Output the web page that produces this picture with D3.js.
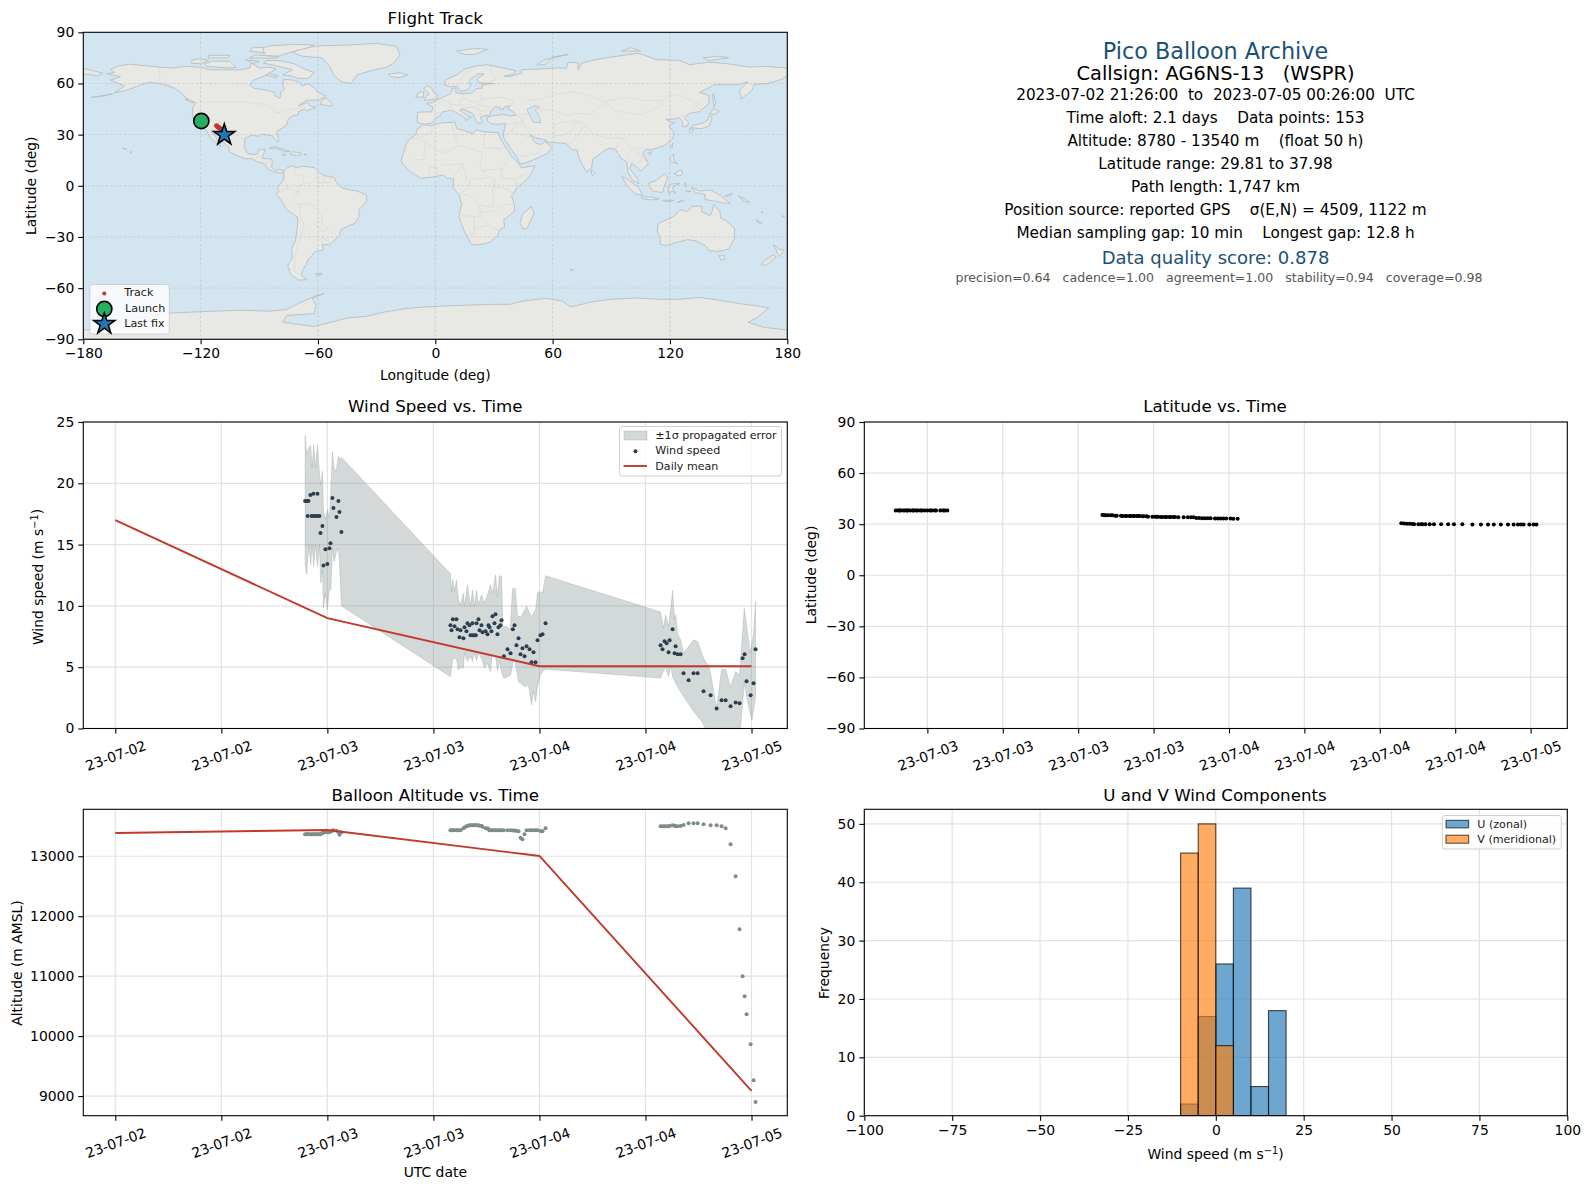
<!DOCTYPE html>
<html>
<head>
<meta charset="utf-8">
<script src="https://cdn.jsdelivr.net/npm/d3@7"></script>
<style>
  html, body { margin: 0; padding: 0; background: #fff; }
  svg { display: block; }
  text { font-family: "DejaVu Sans", sans-serif; fill: #000; }
</style>
</head>
<body>
<svg id="fig" width="1589" height="1190"></svg>
<script>
// hours after 2023-07-02 00:00 UTC, one entry per fix
const fixHours = [
  21.48,21.67,21.78,21.86,22.08,22.23,22.42,22.42,22.65,22.88,22.88,23.1,23.22,23.44,23.56,23.78,24.0,24.23,24.35,24.57,24.69,25.03,25.25,25.37,25.59,
  37.93,38.05,38.2,38.39,38.61,38.73,38.95,39.07,39.4,39.52,39.74,39.86,40.08,40.2,40.42,40.42,40.65,40.8,40.88,41.1,41.22,41.44,41.56,41.9,42.12,42.23,42.35,42.57,42.69,42.91,43.03,43.25,43.37,43.59,43.71,43.97,44.39,44.73,44.99,45.18,45.4,45.63,45.86,46.08,46.31,46.54,46.88,47.1,47.33,47.56,47.78,48.12,48.35,48.69,
  61.71,61.93,62.16,62.39,62.61,62.73,63.07,63.29,63.41,63.63,63.97,64.31,64.88,65.44,65.9,66.57,67.37,68.05,68.61,69.07,69.63,70.2,70.65,70.99,71.22,71.44,71.9,72.23,72.46
];
const windSpeed = [
  18.55,18.55,17.33,18.55,19.05,17.33,19.15,17.33,17.33,19.15,17.33,17.33,15.94,16.51,13.3,14.63,13.41,14.71,15.12,18.8,17.98,17.25,18.55,17.66,16.02,
  8.42,8.02,8.91,8.34,8.91,8.1,7.44,8.02,7.36,8.26,7.93,8.59,8.42,7.61,8.59,7.61,7.61,7.61,8.59,8.91,8.02,8.42,7.85,7.93,7.69,8.42,8.26,7.93,9.16,8.59,9.32,7.69,8.26,8.42,8.83,5.89,6.46,6.14,8.1,8.42,6.79,7.36,6.05,6.55,5.89,6.71,6.46,5.4,6.22,5.4,7.2,7.61,7.69,8.59,
  6.79,6.46,7.12,6.95,6.22,7.2,8.1,6.14,6.71,6.05,6.05,4.5,3.93,4.5,4.5,3.03,2.71,1.64,2.3,2.3,1.81,2.13,2.05,5.73,6.05,3.85,2.71,3.69,6.46
];
const altitude = [
  13365,13365,13365,13365,13365,13365,13365,13365,13365,13365,13365,13365,13365,13385,13400,13400,13400,13400,13410,13425,13435,13425,13405,13360,13400,
  13433,13433,13433,13433,13433,13433,13433,13433,13465,13480,13500,13505,13515,13515,13515,13515,13515,13515,13515,13515,13510,13510,13490,13465,13465,13450,13435,13433,13433,13433,13433,13433,13433,13433,13433,13435,13435,13435,13430,13430,13425,13415,13310,13283,13366,13433,13433,13433,13433,13433,13433,13420,13415,13465,
  13500,13500,13500,13500,13500,13505,13516,13510,13500,13500,13505,13520,13550,13550,13550,13533,13516,13516,13500,13466,13200,12666,11783,11000,10666,10366,9866,9266,8900
];
const latitude = [
  37.98,37.98,37.98,37.98,37.98,37.98,37.98,37.98,37.98,37.98,37.98,37.98,37.98,37.98,37.98,37.98,37.98,37.98,37.98,37.98,37.98,37.98,37.98,37.98,37.98,
  35.4,35.4,35.3,35.3,35.3,35.2,34.9,34.9,34.9,34.8,34.8,34.8,34.8,34.8,34.8,34.8,34.8,34.8,34.8,34.7,34.7,34.7,34.3,34.3,34.3,34.3,34.3,34.2,34.2,34.2,34.2,34.2,34.2,34.2,34.2,34.1,34.1,34.1,34.1,34.1,33.6,33.6,33.5,33.5,33.5,33.5,33.4,33.4,33.4,33.4,33.3,33.3,33.2,33.2,
  30.5,30.4,30.3,30.2,30.1,30.0,30.0,29.95,29.95,29.95,29.9,29.9,29.9,29.9,29.9,29.9,29.85,29.85,29.85,29.85,29.85,29.85,29.85,29.85,29.81,29.81,29.81,29.81,29.81
];

// +-1 sigma band, [hours, m/s]
const bandUpper = [
  [21.48,23.9],[21.67,22.34],[21.9,22.89],[22.12,23.08],[22.27,21.25],[22.46,23.16],[22.65,21.25],[22.88,23.16],[23.1,20.84],[23.25,19.89],[23.44,20.98],[23.56,17.85],[23.78,17.03],[24.0,17.85],[24.23,17.17],[24.39,19.48],[24.57,22.56],[24.76,21.25],[24.99,20.98],[25.25,22.2],[25.37,21.93],[25.59,22.12],
  [37.93,12.62],[38.05,11.18],[38.2,12.18],[38.39,11.18],[38.61,12.13],[38.84,10.49],[39.07,10.09],[39.4,11.04],[39.52,9.95],[39.86,11.72],[40.2,9.95],[40.42,11.31],[40.65,9.95],[40.88,11.26],[41.1,10.09],[41.44,10.9],[41.78,10.22],[42.12,10.9],[42.46,11.72],[42.69,11.04],[43.03,12.54],[43.25,10.77],[43.48,12.46],[43.71,12.4],[43.86,8.32],[44.31,8.32],[44.69,8.04],[44.95,11.37],[45.25,11.45],[45.52,9.13],[45.97,9.13],[46.54,10.0],[46.88,9.4],[47.1,9.13],[47.56,9.68],[47.78,11.04],[48.0,11.18],[48.35,11.04],[48.69,12.46],
  [61.71,9.51],[62.05,8.18],[62.27,9.27],[62.61,8.32],[62.84,9.68],[63.07,11.26],[63.29,8.86],[63.41,9.27],[63.63,7.77],[63.97,7.23],[64.31,6.14],[64.88,6.68],[65.44,7.23],[65.9,7.09],[66.57,5.73],[67.14,5.1],[67.37,4.5],[68.05,1.64],[68.61,4.83],[69.07,4.83],[69.63,3.41],[70.2,4.64],[70.65,4.37],[71.18,9.81],[71.86,6.14],[72.23,7.77],[72.46,10.36]
];
const bandLower = [
  [21.48,13.35],[21.67,12.54],[21.9,14.99],[22.12,13.35],[22.27,14.99],[22.46,13.22],[22.65,14.99],[22.88,13.22],[23.1,14.99],[23.25,11.86],[23.44,12.95],[23.56,9.81],[23.78,11.04],[24.0,9.68],[24.23,11.31],[24.39,11.31],[24.57,14.72],[24.76,13.63],[24.99,14.31],[25.25,14.72],[25.37,13.49],[25.59,10.0],
  [37.93,4.23],[38.2,5.73],[38.39,5.73],[38.61,5.65],[38.84,4.78],[39.07,5.05],[39.4,4.91],[39.52,6.14],[39.86,5.46],[40.2,5.92],[40.42,5.46],[40.65,6.14],[40.88,5.54],[41.1,6.14],[41.44,5.73],[41.78,4.91],[42.12,5.32],[42.46,4.64],[42.69,6.14],[43.03,5.86],[43.25,4.72],[43.48,5.46],[43.71,4.64],[43.97,4.09],[44.39,4.23],[44.73,4.37],[44.99,5.32],[45.18,5.73],[45.4,4.78],[45.63,3.82],[45.86,3.69],[46.31,3.41],[46.76,3.55],[47.1,1.92],[47.33,3.0],[47.56,2.19],[47.78,3.41],[48.12,4.37],[48.35,4.64],[48.69,4.83],
  [61.71,4.12],[62.27,5.05],[62.61,4.23],[62.84,5.05],[63.07,4.23],[63.41,3.69],[64.31,2.6],[65.44,1.4],[66.39,0.55],[67.37,-0.8],[68.05,-2],[68.61,-0.5],[69.07,-0.5],[69.63,-1.5],[70.2,-0.7],[70.65,-0.9],[71.18,3.69],[71.67,1.78],[72.05,0.69],[72.46,2.6]
];

const dailyHours = [0, 24, 48, 72];
const dailyWind = [17.0, 9.0, 5.08, 5.08];
const dailyAltitude = [13388, 13438, 13005, 9088];

// histogram
const binEdges = [-10, -5, 0, 5, 10, 15, 20];
const uCounts = [2, 17, 26, 39, 5, 18];
const vCounts = [45, 50, 12, 0, 0, 0];

// map points
const trackLon = [-119.66,-119.4,-111.9,-111.6,-111.3,-110.9,-110.4,-110,-109.5,-108.6];
const trackLat = [37.98,37.98,35.3,34.9,34.6,34.3,33.9,33.5,33.2,31];
const launchPoint = [-119.66, 37.98];
const lastFix = [-107.9, 29.85];

const lonTicks = [-180, -120, -60, 0, 60, 120, 180];
const latTicks = [-90, -60, -30, 0, 30, 60, 90];
const windTicks = [0, 5, 10, 15, 20, 25];
const altTicks = [9000, 10000, 11000, 12000, 13000];
const histXTicks = [-100, -75, -50, -25, 0, 25, 50, 75, 100];
const histYTicks = [0, 10, 20, 30, 40, 50];
const wideTimeTicks = [0, 12, 24, 36, 48, 60, 72];
const narrowTimeTicks = [24, 30, 36, 42, 48, 54, 60, 66, 72];

const infoLines = [
  "2023-07-02 21:26:00  to  2023-07-05 00:26:00  UTC",
  "Time aloft: 2.1 days    Data points: 153",
  "Altitude: 8780 - 13540 m    (float 50 h)",
  "Latitude range: 29.81 to 37.98",
  "Path length: 1,747 km",
  "Position source: reported GPS    σ(E,N) = 4509, 1122 m",
  "Median sampling gap: 10 min    Longest gap: 12.8 h"
];

// coastlines, lon/lat, coarse
const landPolys = [
  // north america
  [[-168,65.6],[-164,66.5],[-166,68.3],[-162,70.3],[-156.5,71.3],[-148,70.4],[-141,69.6],[-135,69],[-128,70],[-120,69.5],[-115,68],[-108,68],[-100,68],[-95,69],[-94,72],[-90,69],[-85,69.5],[-81.5,68.5],[-85,66],[-87,64.5],[-93,62],[-95,59],[-92.5,57],[-88,56.5],[-82.5,55],[-82,52.8],[-79.5,51.3],[-79,53],[-79,55],[-77,56.5],[-78,58.5],[-77.5,62.4],[-73,62],[-70,61],[-68,58.5],[-65,60],[-62,57.5],[-60,55],[-56,52.5],[-60,50.2],[-66,50.2],[-70,47],[-65,49],[-64.5,47],[-61,46],[-66,44],[-67,45],[-70,43.5],[-70,41.7],[-74,40.6],[-75.5,38],[-76,35.5],[-78,34],[-81,32],[-81,30],[-80,26.8],[-80.5,25.2],[-82,27],[-83,29],[-85,29.7],[-89,30.2],[-90,29],[-94,29.6],[-97.3,27.8],[-97.7,22.5],[-95.8,18.8],[-93,18.4],[-91,18.8],[-90.4,21],[-87,21.5],[-88,18],[-88.5,16],[-84,15.8],[-83.3,14.5],[-83.7,11],[-82,9],[-79.5,9.5],[-77.5,8.7],[-78,7.5],[-80,7.5],[-83,8.2],[-85.7,10],[-87.5,13],[-91,14],[-94,16],[-97,15.8],[-102,18],[-105.5,20],[-105.5,22.5],[-109,26],[-112.5,30],[-114.7,31.7],[-112,28],[-109.8,23],[-112,25],[-115,28],[-117,32.5],[-120.5,34.5],[-122.5,37.5],[-124.3,40.5],[-124,46],[-122.5,48.5],[-127,51],[-130,54.5],[-133,57],[-137,58.5],[-140,59.7],[-146,60.8],[-150,59.5],[-153,58],[-158,56],[-164,54.5],[-159,58.5],[-162,60],[-166,62],[-161,64]],
  // greenland and the arctic islands
  [[-73,78.2],[-68,80.5],[-60,82],[-45,82.5],[-30,83.5],[-20,81.8],[-18,77],[-21,72],[-25,69.5],[-33,67.5],[-40,65],[-43,60],[-48,61],[-52,65],[-54,70],[-58,75],[-68,76]],
  [[-80,73.5],[-72,71.5],[-67,68.5],[-62,66.5],[-65,63],[-70,63],[-74,64.5],[-78,65],[-73,68],[-80,70],[-88,72],[-86,73.5]],
  [[-117,70],[-105,69],[-102,69.5],[-105,73],[-114,73],[-118,71.5]],
  [[-125,72],[-120,71.5],[-116,73.5],[-120,74.5],[-124,74]],
  [[-88,76.5],[-80,76],[-75,78],[-65,81],[-62,82.5],[-72,83],[-85,82],[-90,80],[-87,78]],
  [[-95,75],[-82,74.8],[-80,75.5],[-92,76.8]],
  [[-116,75],[-106,75],[-105,76.5],[-116,76.5]],
  [[-95,79],[-88,78],[-88,81],[-93,81.2]],
  [[-97,73.8],[-90,73],[-93,71.8]],
  [[-87,65],[-81,63.5],[-80.5,64.5],[-85,65.8]],
  [[-59,47.7],[-53,46.7],[-52.8,48],[-55.5,51.5],[-57.5,50.5]],
  [[-128,50.7],[-124,48.5],[-123.5,49],[-126,50.7]],
  [[-85,22],[-82,23.1],[-77,21],[-74.2,20.2],[-77.5,19.9],[-78.5,21],[-82,22]],
  [[-74.4,18.4],[-73,19.9],[-69,19.5],[-68.4,18.5],[-71,17.8]],
  [[-78.3,18.4],[-76.3,18.2],[-77,17.8]],
  [[-67.2,18.5],[-65.7,18.4],[-66.5,17.9]],
  [[-156,20.2],[-155,19.6],[-155.7,19]],
  [[-160,22.2],[-157.8,21.5],[-158.3,21.2]],
  [[-176,51.8],[-170,52.8],[-165,54],[-166,53.6],[-172,52.2]],
  [[-180,68.8],[-175,67.5],[-170,66],[-173,64.3],[-178,65.5],[-180,65]],
  // south america
  [[-77.5,8.7],[-75.5,10.8],[-72,12],[-71.5,10.5],[-68,11.5],[-62,10.7],[-60,8.5],[-57,6],[-52,5],[-50,1],[-48,-1],[-44,-2.5],[-40,-3],[-35.2,-5.5],[-35,-9],[-39,-14],[-39,-18],[-41,-22],[-45,-23.8],[-48.5,-26],[-49,-29],[-52,-32.5],[-54,-34.5],[-58,-34.5],[-57,-37.5],[-62,-39],[-63,-41],[-65,-43],[-66,-46],[-68,-50],[-68.5,-52.5],[-65.5,-55],[-70,-55.3],[-74,-52],[-75.5,-47],[-73,-42],[-73.5,-37],[-71.5,-32],[-70.5,-24],[-70.3,-18.5],[-76,-14],[-79,-8],[-81.2,-5],[-80,-3],[-80.8,-1],[-79,1.5],[-77.5,4],[-77.5,7]],
  [[-61,-51.5],[-58,-51.3],[-58.5,-52.3],[-61,-52.3]],
  // africa
  [[-6,35.8],[-2,35.2],[3,36.9],[10,37.3],[11,33.5],[15,32.3],[19,30.5],[21,32.8],[25,31.7],[32,31.2],[32.5,30],[34,26],[37,21],[38.5,18],[43,12.5],[44,10.5],[51,11.8],[48,5],[42,-1],[39,-6],[40.5,-11],[40.5,-15],[35,-20],[35.5,-24],[32.8,-26],[32,-29],[28,-33],[25,-34],[20,-34.8],[18.3,-34],[15,-27],[12,-18],[13.5,-11],[12,-5],[9,-1],[9.5,4],[6,4.5],[4,6.3],[-2,5],[-7.5,4.4],[-13,8.5],[-16.5,12.5],[-17.5,14.7],[-16,20],[-14.5,26],[-10,30],[-9.5,33]],
  [[49.3,-12],[50.5,-16],[47,-25],[45,-25.5],[43.3,-22],[44.5,-16.5]],
  // eurasia
  [[-5.5,36],[-9,37],[-9.3,39],[-9,43.2],[-2,43.4],[-1,46],[-4.5,48.3],[-1.5,48.8],[2,51],[4,52],[7,53.6],[8.5,55],[8.5,57],[10.5,57.5],[10.5,54.5],[14,54],[19,54.5],[21,57],[24,57.2],[24,59.3],[30,60],[25,60.2],[22,60.5],[21.5,63],[25,65.5],[22,65.8],[18,62.5],[17,60],[18.5,59],[16,56],[13,55.5],[11,58.5],[8,58],[5,59],[5,62],[11,65],[15,68.5],[20,70],[26,71],[31,70],[41,67.5],[40,65.5],[35,64.2],[38,64],[44,66],[44,68],[54,68.5],[60,69],[67,69],[68,72.5],[73,72],[73,68],[75,72],[80,73.5],[90,75.5],[104,77.7],[113,74],[125,73.5],[130,71],[140,72.5],[150,71.5],[160,69.7],[170,70],[180,69],[180,65],[177.5,62.5],[170,60],[163,59.5],[162,56],[156.5,51],[155.5,56],[160,61],[155,59.3],[143,59.3],[135,54.7],[140,53],[140,48],[135,43.5],[130,42.5],[127.5,39.8],[129.5,37],[129,35.2],[126.5,34.5],[126.5,37.5],[124.5,40],[121.5,39],[118,39],[120,37.5],[122.5,37],[119.5,35],[122,31],[121.5,28],[117,23.5],[113.5,22.2],[110,21],[108,21.5],[106,19],[109,13],[107,10.5],[105,8.7],[103,11],[100.5,13.5],[99.5,10],[103.5,4],[104,1.3],[101,3],[98.5,8],[98,14],[95,16],[94,18],[92,21.5],[89,22],[87,21],[80.5,15.5],[80,11],[77.5,8],[75,12.5],[73,18],[72.5,21],[70,21],[67,24.8],[62,25.3],[57,25.6],[56.5,27],[51.5,28],[48.5,30],[50,27],[51.5,25],[54,24.2],[56.3,26],[59.5,22.5],[57.5,19],[52,16],[45,13],[43,13],[42,16.5],[39,21],[35,28],[34.7,29.5],[35,31.5],[36,36.5],[32,36],[28,36.5],[26.5,38.5],[26.5,40],[29,41],[31,41.2],[35,42],[38,41],[41.5,41.5],[39,44],[37,45],[38.5,47],[35,46],[35,45],[33.5,44.5],[33,46],[30.5,46.3],[28.5,44],[28,41.5],[24,40.8],[23,40],[24,38],[23,36.5],[21.5,37],[19.5,41],[19,42.5],[14,45],[12.5,44.5],[16,41.5],[18.5,40],[16.5,39.5],[16,38],[14.5,40.5],[10.5,43],[8.5,44.3],[3.5,43.3],[3,41.8],[0,39.5],[-0.5,38],[-2,36.8]],
  [[-5.5,50],[1,51],[1.5,53],[-1,55],[-2,57.5],[-4,58.5],[-6,57],[-3,54],[-5,52]],
  [[-10,52],[-6,52],[-6,55],[-8.5,55]],
  [[-24,65.5],[-18,66.3],[-14,65],[-18.5,63.4],[-22.5,64]],
  [[11,79],[20,80.5],[27,80],[20,77],[15,77]],
  [[52,71],[56,74],[68,77],[60,75.5],[56,71]],
  [[95,79],[105,79],[100,81]],
  [[137,75],[145,76],[150,75],[140,73.5]],
  [[142,54],[143.5,49],[142.5,46],[142,50]],
  [[130.5,34],[136,33.5],[140,35],[141.5,40],[140,41],[139,38],[136,36.5],[132,35.5]],
  [[140,42],[143,42],[145.3,43.5],[142,45.4],[141,43]],
  [[130,33.5],[132,33],[131,31],[130,31.5]],
  [[120,23],[121.5,25],[121,22]],
  [[108.7,19],[110.5,20],[110,18.3]],
  [[120,16],[122,18.5],[122,15],[124,13],[120.5,14]],
  [[122,7],[125.5,9.5],[126.5,7],[125,5.8]],
  [[80,9.7],[81.8,7.5],[80.5,6],[79.8,7.5]],
  [[109,1.5],[113,3],[117,7],[119,5],[117.5,1],[116,-4],[111,-3],[109.2,0]],
  [[95.3,5.5],[98,4],[104,-1],[106,-5.8],[102,-4.5],[98,0]],
  [[105.3,-6.5],[110,-6.5],[114.5,-7.7],[110,-8.3],[106,-7.5]],
  [[119.5,-5],[119,0],[121,1],[125,1.5],[121,-1],[123,-4.5],[121,-3]],
  [[116,-8.5],[120,-8.5],[122,-8.5],[119,-9.5]],
  [[124,-9.5],[127,-8.5],[124,-10]],
  [[131,-1],[135,-3],[141,-2.5],[146,-6],[151,-10.5],[147,-10],[143,-9],[138,-8],[138,-5],[133,-4]],
  [[148,-6],[152,-4.3],[151,-6]],
  [[155,-6],[159,-8],[161,-10],[158,-9]],
  [[128,-3],[130.8,-3.3],[129,-3.5]],
  [[127.5,1.5],[128.5,1],[128,-0.5]],
  [[164,-20],[167,-22],[165.5,-21.8]],
  [[177.5,-17.5],[178.6,-18],[177.5,-18.3]],
  [[167,-15],[167.5,-16],[166.7,-15.8]],
  // australia, new zealand
  [[114,-22],[113.5,-26],[115,-31],[115,-34.3],[118,-35],[124,-33],[129,-31.6],[134,-32.5],[138,-35],[140,-38],[144,-38.5],[147,-38],[150,-37],[153,-31],[153,-25],[149,-20.5],[146,-19],[145.5,-15],[142.5,-10.8],[141.5,-15],[140.5,-17.5],[136,-15],[136.5,-12],[131,-12],[129,-15],[125,-14],[122,-18],[118,-20]],
  [[145,-41],[148,-41],[148,-43],[146,-43.5]],
  [[172.7,-34.5],[175.5,-37],[178.5,-37.7],[176,-41.5],[175,-40],[174.5,-38]],
  [[172.7,-40.5],[174.3,-41.8],[171,-45],[169,-46.7],[166.5,-46],[169,-43.5]],
  [[69,-49],[70.5,-49.2],[69.5,-49.8]],
  // antarctica
  [[-180,-84.5],[-170,-84.5],[-160,-80],[-150,-77],[-135,-74.6],[-120,-73.8],[-100,-73],[-85,-73.5],[-76,-72.5],[-70,-69],[-60,-64],[-57,-63.2],[-63,-66],[-61,-70],[-62,-75],[-76,-76],[-78,-80],[-62,-82.5],[-50,-79],[-45,-77.5],[-35,-76.5],[-26,-74],[-15,-72],[-5,-71],[5,-70.5],[15,-70],[30,-69.5],[38,-69.5],[45,-67.5],[57,-66],[65,-67.5],[69,-71],[75,-69.5],[80,-68],[90,-66.5],[103,-65.8],[115,-66.5],[125,-66.5],[135,-65.5],[145,-67],[155,-69],[165,-70.5],[170.5,-71.5],[165,-77],[160,-80],[168,-83],[180,-84.5],[180,-90],[-180,-90]]
];
const caspianSea = [[47,45],[51,47],[53.5,46],[51,44.5],[53,41],[54,37],[50,37.3],[49,40],[47.5,43]];

const borderLines = [
  [[-141,69.6],[-141,60.3],[-135,59],[-130,55]],
  [[-123,49],[-95,49],[-89,48],[-84,46.5],[-82,43],[-79,43],[-75,45],[-71,45],[-67,47],[-67,45]],
  [[-117,32.5],[-108,31.5],[-106,31.7],[-101,29.8],[-97.3,26]],
  [[-92,14.7],[-91,17.5],[-89,17.8],[-88.5,15.9]],
  [[-87.5,13],[-83.5,15]],[[-85.7,11],[-83.7,11]],[[-83,8.5],[-82.5,9.5]],
  [[-72,11.8],[-72,7],[-67.5,6],[-67,1.5],[-70,0],[-70,-4],[-73,-7],[-70.5,-11],[-69,-11],[-65,-10],[-60,-14],[-58,-18],[-58,-20],[-58,-22],[-54.5,-25.5],[-58,-27],[-62,-22],[-58,-20]],
  [[-69,-18],[-67,-23],[-70,-33],[-71.5,-40],[-72,-50],[-68.5,-52.5]],
  [[-69,-11],[-69,-17]],[[-80.5,-3.5],[-75,-1],[-77,2]],[[-70,-4],[-75,-1]],
  [[-60,8.5],[-60,5],[-59.5,1.5]],[[-57,6],[-56.5,2]],[[-54,5.5],[-54,2.5]],
  [[-67,1.5],[-63,2],[-60,5]],[[-60,1.5],[-52,2]],[[-58,-34],[-58,-30],[-53.5,-33.5]],
  [[-2,35],[-1.5,32],[-8.5,27.7],[-13,27.7]],
  [[-8.5,27.7],[-5,25],[1.5,21],[4,19],[12,23.5],[9.5,30],[8.5,36.8]],
  [[25,31.6],[25,22],[36.5,22]],[[12,23.5],[15,23],[24,19.5],[25,20]],[[24,19.5],[23,11],[27,5]],
  [[-5,25],[-6,15.5],[-12,15]],[[3,12],[14,13]],[[14,13],[15,8],[16,3]],[[9,4.5],[14,13]],
  [[-3,5],[-3,11],[1,11],[1.5,6]],
  [[12.5,-5.5],[17,-5],[22,-11],[29,-13],[30,-8],[29,-2],[31,3],[27,5],[18,3.5],[17,-1],[12,-5]],
  [[12,-17.5],[24,-18],[22,-11]],[[20,-18],[20,-28],[17,-29]],[[20,-25],[27,-23],[32,-26]],
  [[30,-15],[35,-11],[40,-11]],[[34,-1],[40,-4.5]],[[34,-1],[30,-1]],[[34,4.5],[41,4],[48,8]],
  [[36.5,14],[34,10],[34,4.5]],[[24,9],[34,10]],[[22,-16],[30,-15]],[[41,-1.5],[41,4]],
  [[-2,43.4],[3,42.4]],[[2.5,51],[6,49.5],[8,49],[7.5,47.5],[7,44]],
  [[14,54],[15,51],[12,50],[13,47.5],[7.5,47.5]],[[23,54],[24,50.5],[22,49],[15,51]],
  [[24,50.5],[34,52],[40,49.5],[38.5,47]],[[22,48],[29,45.5]],[[22,48],[21,46],[23,44],[28.5,44]],
  [[14,45.5],[19,46],[21,46],[23,44],[23,41.5],[19.5,41.5]],[[28,70],[29,66],[31,62.5],[27,60.5]],[[20,69],[14,65],[12,60],[11,59]],
  [[47,50],[55,51],[62,54],[71,55],[77,53.5],[83,51],[87,49]],
  [[87,49.5],[98,52],[106,50],[116,50],[120,53.5],[125,53],[135,48],[131,45],[130.5,42.5]],
  [[87,49],[91,45],[97,42.7],[105,41.8],[112,45],[116,47],[116,50]],
  [[52,42],[56,45],[61,44],[68,41],[71,42.5],[80,42],[82,45],[87,49]],
  [[44.5,39.5],[44.5,37],[46,35],[48,30]],[[61,36.5],[61,31],[61,25.3]],
  [[61,29.5],[66,29.5],[70,33],[71.5,36.5],[74.5,37.5]],[[61,36],[66,37.3],[71,38],[74.5,37.5]],
  [[68,24],[71,27],[74,32],[77,35]],[[74.5,37],[79,33],[81,30],[88,28],[97,28]],
  [[92,21],[94,25],[97,28],[98,24],[101,21],[100,20],[98,16]],[[101,21],[105,17],[105.5,14.5],[103,14]],
  [[102,22.5],[108,21.5]],[[102,22],[107,16],[107.5,14]],
  [[35,29.5],[39,32],[46.5,29],[48.5,28.5]],[[55,22],[52,19],[43,17]],[[39,32],[42,37]],[[36,36],[42,37],[44.5,37]],
  [[124.5,40],[130,42.5]],[[41,41.5],[47.5,41.8]],[[41.5,41.5],[44.5,39.5]]
];

const colBlue = "#1a5276";
const colRed = "#c0392b";
const colGrey = "#7f8c8d";
const colNavy = "#2c3e50";
const gridCol = "#e2e2e2";

const svg = d3.select("#fig");
const timeOf = h => new Date(Date.UTC(2023, 6, 2) + h * 3600e3);
const fmtTime = d3.utcFormat("%y-%m-%d");
const fmtNum = d => String(d).replace("-", "\u2212");

// the basemap in the reference is a resampled image, a bit soft
svg.append("defs").append("filter").attr("id", "soft")
  .attr("x", 0).attr("y", 0).attr("width", 1).attr("height", 1)
  .append("feGaussianBlur").attr("stdDeviation", 0.45);

let clipId = 0;
// one panel: frame position in px, scales, grid, axes
function panel(box, x, y, opts) {
  const g = svg.append("g");
  const id = "clip" + (clipId++);
  g.append("clipPath").attr("id", id).append("rect")
    .attr("x", box.left).attr("y", box.top)
    .attr("width", box.right - box.left).attr("height", box.bottom - box.top);
  x.range([box.left, box.right]);
  y.range([box.bottom, box.top]);

  const back = g.append("g").attr("clip-path", `url(#${id})`);
  const plot = g.append("g").attr("clip-path", `url(#${id})`);

  const grid = g.insert("g", "g").attr("class", "grid");
  opts.xTicks.forEach(t => grid.append("line")
    .attr("x1", x(t)).attr("x2", x(t)).attr("y1", box.top).attr("y2", box.bottom)
    .attr("stroke", gridCol).attr("stroke-width", 1.2));
  opts.yTicks.forEach(t => grid.append("line")
    .attr("x1", box.left).attr("x2", box.right).attr("y1", y(t)).attr("y2", y(t))
    .attr("stroke", gridCol).attr("stroke-width", 1.2));

  const finish = () => {
    const ax = g.append("g").attr("transform", `translate(0,${box.bottom})`)
      .call(d3.axisBottom(x).tickValues(opts.xTicks).tickSize(5).tickPadding(4).tickFormat(opts.xFormat || fmtNum));
    const ay = g.append("g").attr("transform", `translate(${box.left},0)`)
      .call(d3.axisLeft(y).tickValues(opts.yTicks).tickSize(5).tickPadding(4).tickFormat(fmtNum));
    [ax, ay].forEach(a => {
      a.select(".domain").remove();
      a.selectAll("line").attr("stroke", "#000").attr("stroke-width", 1.1);
      a.selectAll("text").style("font-size", "13.9px");
    });
    if (opts.rotate) {
      ax.selectAll("text")
        .attr("text-anchor", "middle").attr("dominant-baseline", "central")
        .attr("y", 0).attr("dy", 0)
        .attr("transform", "translate(0,27) rotate(-20)");
    }
    g.append("rect").attr("x", box.left).attr("y", box.top)
      .attr("width", box.right - box.left).attr("height", box.bottom - box.top)
      .attr("fill", "none").attr("stroke", "#000").attr("stroke-width", 1.1);
  };
  return { g, back, plot, finish };
}

function label(txt, x, y, size, rot, color) {
  const t = svg.append("text").attr("text-anchor", "middle").attr("dominant-baseline", "central")
    .style("font-size", size + "px").style("fill", color || "#000");
  if (rot) t.attr("transform", `translate(${x},${y}) rotate(${rot})`);
  else t.attr("x", x).attr("y", y);
  t.text(txt);
  return t;
}
function windLabel(x, y, rot) {
  const t = label("Wind speed (m s", x, y, 13.9, rot);
  t.append("tspan").attr("dy", "-0.4em").style("font-size", "9.8px").text("\u22121");
  t.append("tspan").attr("dy", "0.28em").text(")");
}

const colLeft = { left: 83.3, right: 787.3 };
const colRight = { left: 864.3, right: 1567.3 };
const hDomain = [-3.62, 76.05];

/* ---------- flight track map ---------- */
const mapBox = { ...colLeft, top: 32.3, bottom: 339.3 };
const mapX = d3.scaleLinear().domain([-180, 180]);
const mapY = d3.scaleLinear().domain([-90, 90]);
const mapP = panel(mapBox, mapX, mapY, { xTicks: lonTicks, yTicks: latTicks });
mapP.g.select(".grid").remove();
mapP.back.append("rect").attr("x", mapBox.left).attr("y", mapBox.top)
  .attr("width", mapBox.right - mapBox.left).attr("height", mapBox.bottom - mapBox.top)
  .attr("fill", "#d3e5f1");
const geoLine = d3.line().x(d => mapX(d[0])).y(d => mapY(d[1]));
const basemap = mapP.back.append("g").attr("filter", "url(#soft)");
basemap.selectAll("path.land").data(landPolys).join("path").attr("class", "land")
  .attr("d", d => geoLine(d) + "Z")
  .attr("fill", "#e8e8e4").attr("stroke", "#b6bec2").attr("stroke-width", 0.9).attr("stroke-linejoin", "round");
basemap.append("path").attr("d", geoLine(caspianSea) + "Z")
  .attr("fill", "#d3e5f1").attr("stroke", "#b6bec2").attr("stroke-width", 0.8);
basemap.selectAll("path.border").data(borderLines).join("path").attr("class", "border")
  .attr("d", geoLine).attr("fill", "none").attr("stroke", "#d8d8d4").attr("stroke-width", 0.7);
lonTicks.slice(1, -1).forEach(t => mapP.back.append("line")
  .attr("x1", mapX(t)).attr("x2", mapX(t)).attr("y1", mapBox.top).attr("y2", mapBox.bottom)
  .attr("stroke", "#aab0b3").attr("stroke-width", 0.7).attr("stroke-dasharray", "2.5,2").attr("opacity", 0.6));
latTicks.slice(1, -1).forEach(t => mapP.back.append("line")
  .attr("x1", mapBox.left).attr("x2", mapBox.right).attr("y1", mapY(t)).attr("y2", mapY(t))
  .attr("stroke", "#aab0b3").attr("stroke-width", 0.7).attr("stroke-dasharray", "2.5,2").attr("opacity", 0.6));
mapP.plot.selectAll("circle.trk").data(d3.zip(trackLon, trackLat)).join("circle").attr("class", "trk")
  .attr("cx", d => mapX(d[0])).attr("cy", d => mapY(d[1])).attr("r", 2.4).attr("fill", colRed);
const launchMark = (g, cx, cy) => g.append("circle").attr("cx", cx).attr("cy", cy).attr("r", 7.6)
  .attr("fill", "#27ae60").attr("stroke", "#000").attr("stroke-width", 1.6);
const starMark = (g, cx, cy) => g.append("path").attr("d", d3.symbol(d3.symbolStar, 140)())
  .attr("transform", `translate(${cx},${cy})`)
  .attr("fill", "#1f77b4").attr("stroke", "#000").attr("stroke-width", 1.5).attr("stroke-linejoin", "miter");
launchMark(mapP.plot, mapX(launchPoint[0]), mapY(launchPoint[1]));
starMark(mapP.plot, mapX(lastFix[0]), mapY(lastFix[1]));
mapP.finish();

function legendBox(x, y, w, h) {
  return svg.append("rect").attr("x", x).attr("y", y).attr("width", w).attr("height", h).attr("rx", 2.5)
    .attr("fill", "#fff").attr("fill-opacity", 0.8).attr("stroke", "#d0d0d0").attr("stroke-width", 1);
}
function legendText(txt, x, y) {
  svg.append("text").attr("x", x).attr("y", y).attr("dominant-baseline", "central")
    .style("font-size", "11.1px").style("fill", "#1a1a1a").text(txt);
}
legendBox(89.8, 284.5, 79.5, 49.5);
svg.append("circle").attr("cx", 104.3).attr("cy", 293.4).attr("r", 2).attr("fill", colRed);
legendText("Track", 124.3, 292.5);
launchMark(svg, 104.3, 309);
starMark(svg, 104.3, 324);
legendText("Launch", 125, 308.5);
legendText("Last fix", 124.3, 323);

label("Flight Track", 435.3, 18, 16.67);
label("Longitude (deg)", 435.3, 375, 13.9);
label("Latitude (deg)", 30.5, 185.8, 13.9, -90);

/* ---------- info panel ---------- */
label("Pico Balloon Archive", 1215.5, 51, 22.3, 0, colBlue);
label("Callsign: AG6NS-13   (WSPR)", 1215.5, 73, 19.4).style("white-space", "pre");
infoLines.forEach((s, i) => label(s, 1215.5, 94.5 + i * 23, 15.25).style("white-space", "pre"));
label("Data quality score: 0.878", 1215.5, 257.5, 18, 0, colBlue);
label("precision=0.64   cadence=1.00   agreement=1.00   stability=0.94   coverage=0.98", 1219, 277.5, 12.57, 0, "#555").style("white-space", "pre");

/* ---------- wind speed ---------- */
const windBox = { ...colLeft, top: 422, bottom: 728.5 };
const wx = d3.scaleUtc().domain(hDomain.map(timeOf));
const wy = d3.scaleLinear().domain([0, 25]);
const wP = panel(windBox, wx, wy, {
  xTicks: wideTimeTicks.map(timeOf), yTicks: windTicks, xFormat: fmtTime, rotate: true
});
const bandLine = d3.line().x(d => wx(timeOf(d[0]))).y(d => wy(d[1]));
wP.plot.append("path")
  .attr("d", bandLine(bandUpper.concat(bandLower.slice().reverse())) + "Z")
  .attr("fill", colGrey).attr("fill-opacity", 0.34)
  .attr("stroke", colGrey).attr("stroke-opacity", 0.25).attr("stroke-width", 1);
wP.plot.selectAll("circle").data(d3.zip(fixHours, windSpeed)).join("circle")
  .attr("cx", d => wx(timeOf(d[0]))).attr("cy", d => wy(d[1])).attr("r", 2).attr("fill", colNavy);
wP.plot.append("path")
  .attr("d", d3.line().x(d => wx(timeOf(d[0]))).y(d => wy(d[1]))(d3.zip(dailyHours, dailyWind)))
  .attr("fill", "none").attr("stroke", colRed).attr("stroke-width", 1.9);
wP.finish();
label("Wind Speed vs. Time", 435.3, 406, 16.67);
windLabel(37.5, 577, -90);

legendBox(619.5, 426.5, 162, 49.5);
svg.append("rect").attr("x", 624).attr("y", 431).attr("width", 23).attr("height", 9)
  .attr("fill", colGrey).attr("fill-opacity", 0.34).attr("stroke", colGrey).attr("stroke-opacity", 0.25);
svg.append("circle").attr("cx", 635.5).attr("cy", 451.3).attr("r", 2).attr("fill", colNavy);
svg.append("line").attr("x1", 623.5).attr("x2", 647).attr("y1", 466).attr("y2", 466).attr("stroke", colRed).attr("stroke-width", 1.9);
legendText("\u00b11\u03c3 propagated error", 655.3, 435.5);
legendText("Wind speed", 655.3, 450.5);
legendText("Daily mean", 655.3, 466);

/* ---------- latitude ---------- */
const latBox = { ...colRight, top: 422, bottom: 728.5 };
const lx = d3.scaleUtc();
lx.domain([timeOf(24 - (927.4 - colRight.left) / 12.57), timeOf(72 + (colRight.right - 1530.6) / 12.57)]);
const ly = d3.scaleLinear().domain([-90, 90]);
const lP = panel(latBox, lx, ly, {
  xTicks: narrowTimeTicks.map(timeOf), yTicks: latTicks, xFormat: fmtTime, rotate: true
});
lP.plot.selectAll("circle").data(d3.zip(fixHours, latitude)).join("circle")
  .attr("cx", d => lx(timeOf(d[0]))).attr("cy", d => ly(d[1])).attr("r", 2).attr("fill", "#000");
lP.finish();
label("Latitude vs. Time", 1215, 406, 16.67);
label("Latitude (deg)", 811, 575, 13.9, -90);

/* ---------- altitude ---------- */
const altBox = { ...colLeft, top: 809.3, bottom: 1115.7 };
const ax2 = d3.scaleUtc().domain(hDomain.map(timeOf));
const ay2 = d3.scaleLinear().domain([8673, 13783]);
const aP = panel(altBox, ax2, ay2, {
  xTicks: wideTimeTicks.map(timeOf), yTicks: altTicks, xFormat: fmtTime, rotate: true
});
aP.plot.selectAll("circle").data(d3.zip(fixHours, altitude)).join("circle")
  .attr("cx", d => ax2(timeOf(d[0]))).attr("cy", d => ay2(d[1])).attr("r", 2).attr("fill", colGrey);
aP.plot.append("path")
  .attr("d", d3.line().x(d => ax2(timeOf(d[0]))).y(d => ay2(d[1]))(d3.zip(dailyHours, dailyAltitude)))
  .attr("fill", "none").attr("stroke", colRed).attr("stroke-width", 1.9);
aP.finish();
label("Balloon Altitude vs. Time", 435.3, 795, 16.67);
label("Altitude (m AMSL)", 16.5, 963, 13.9, -90);
label("UTC date", 435.3, 1171.5, 13.9);

/* ---------- histogram ---------- */
const histBox = { ...colRight, top: 809.3, bottom: 1115.7 };
const hx = d3.scaleLinear().domain([-100, 100]);
const hy = d3.scaleLinear().domain([0, 52.5]);
const hP = panel(histBox, hx, hy, { xTicks: histXTicks, yTicks: histYTicks });
[[uCounts, "#1f77b4"], [vCounts, "#ff7f0e"]].forEach(([counts, col]) => {
  counts.forEach((c, i) => {
    if (!c) return;
    hP.plot.append("rect")
      .attr("x", hx(binEdges[i])).attr("width", hx(binEdges[i + 1]) - hx(binEdges[i]))
      .attr("y", hy(c)).attr("height", hy(0) - hy(c))
      .attr("fill", col).attr("fill-opacity", 0.65)
      .attr("stroke", "#000").attr("stroke-opacity", 0.7).attr("stroke-width", 1.1);
  });
});
hP.finish();
label("U and V Wind Components", 1215, 795, 16.67);
label("Frequency", 824, 963, 13.9, -90);
windLabel(1215.5, 1154, 0);

legendBox(1442.3, 815.5, 119, 33.5);
svg.append("rect").attr("x", 1446).attr("y", 820.3).attr("width", 22.7).attr("height", 7.6)
  .attr("fill", "#1f77b4").attr("fill-opacity", 0.65).attr("stroke", "#000").attr("stroke-opacity", 0.7);
svg.append("rect").attr("x", 1446).attr("y", 835.2).attr("width", 22.7).attr("height", 8)
  .attr("fill", "#ff7f0e").attr("fill-opacity", 0.65).attr("stroke", "#000").attr("stroke-opacity", 0.7);
legendText("U (zonal)", 1477.3, 824.3);
legendText("V (meridional)", 1477.3, 839.3);
</script>
</body>
</html>
